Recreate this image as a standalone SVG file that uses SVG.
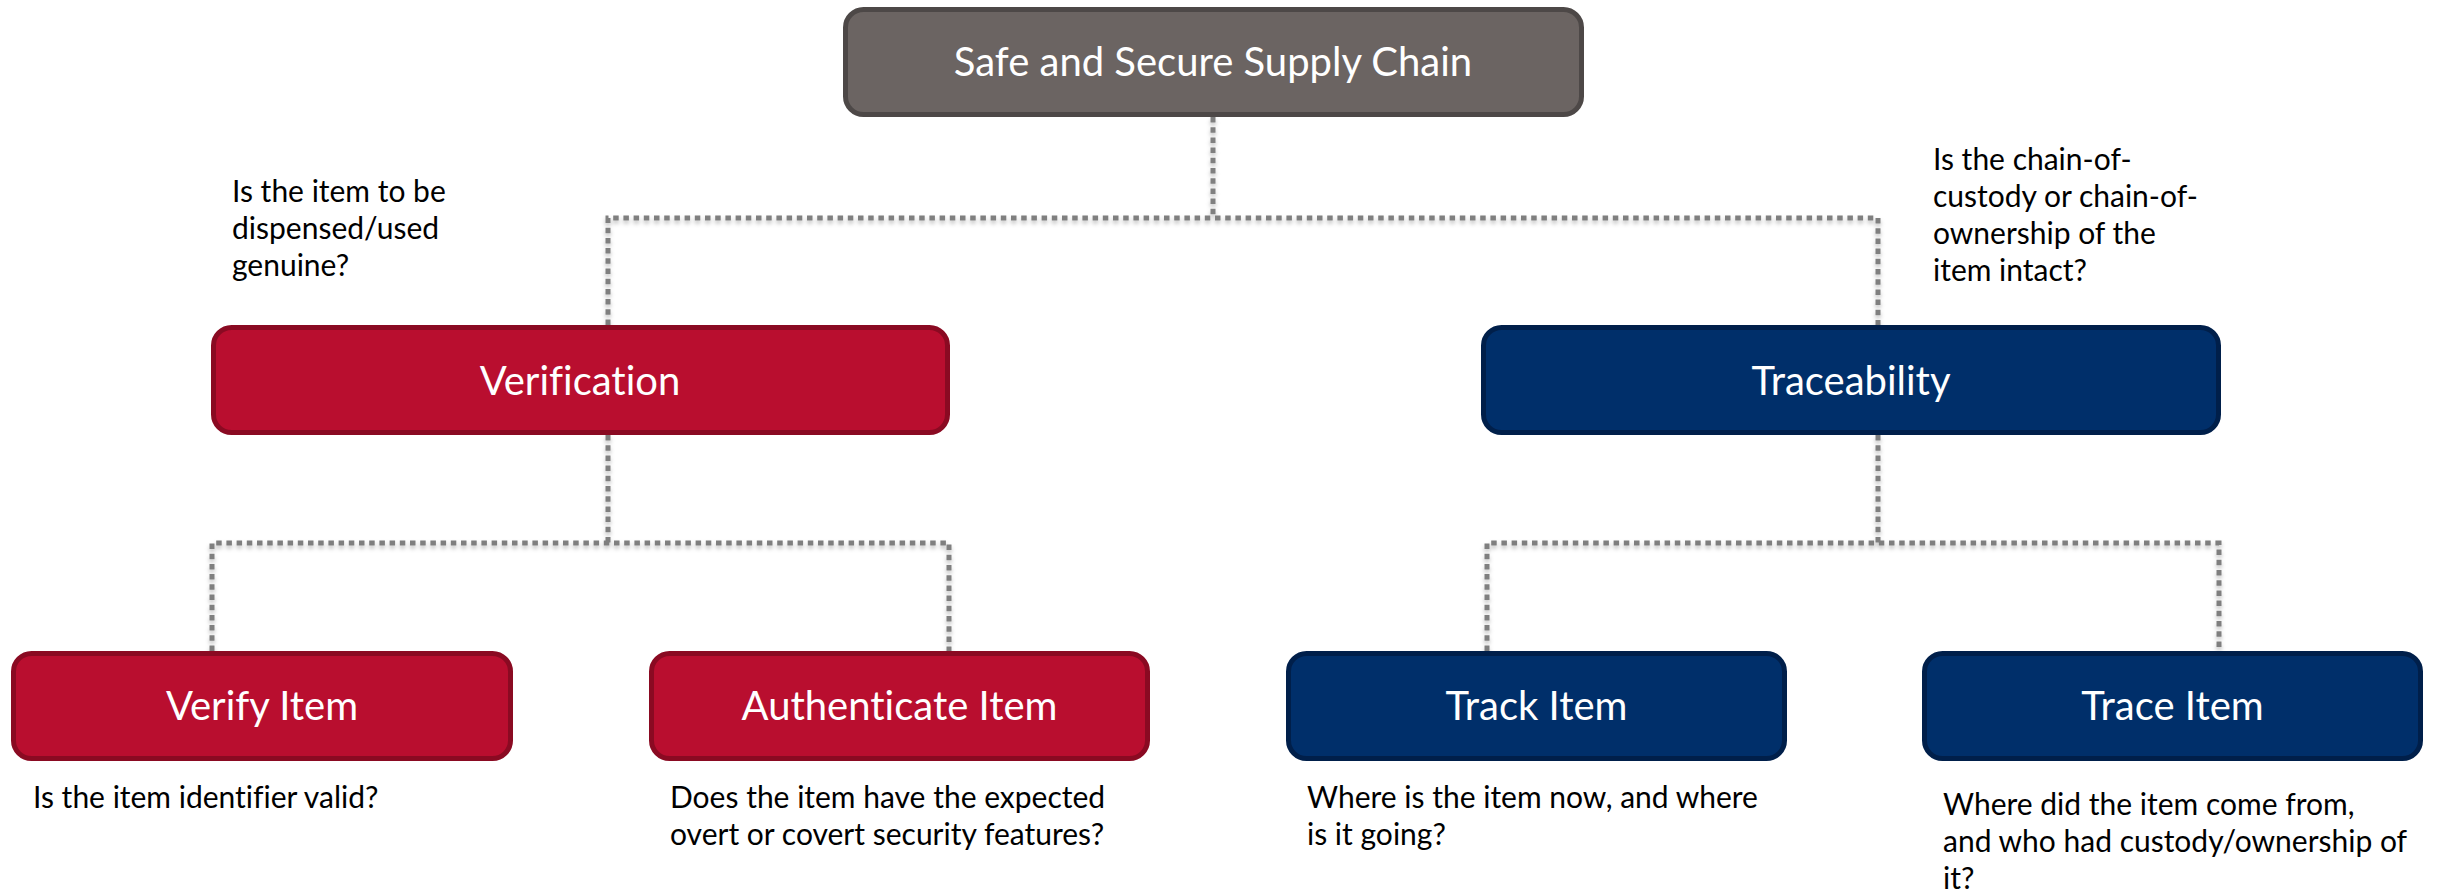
<svg xmlns="http://www.w3.org/2000/svg" width="2437" height="892" viewBox="0 0 2437 892">
<style>
.box{stroke-width:5}
.gray{fill:#6b6462;stroke:#4d4847}
.red{fill:#b90e2f;stroke:#8a0a22}
.blue{fill:#002f6a;stroke:#001f4a}
.lbl{font-family:Lato,"Liberation Sans",sans-serif;fill:#ffffff;text-anchor:middle;font-variant-ligatures:none}
.big{font-size:40px}
.mid{font-size:40px}
.note{font-family:Lato,"Liberation Sans",sans-serif;font-size:30px;fill:#000000;font-variant-ligatures:none}
.conn{fill:none;stroke:#7f7f7f;stroke-width:5;stroke-dasharray:5.5 4.7}
</style>
<defs>
<filter id="sh" x="-5%" y="-50%" width="110%" height="200%">
<feDropShadow dx="0" dy="3" stdDeviation="2" flood-color="#000" flood-opacity="0.25"/>
</filter>
</defs>
<g id="connectors" filter="url(#sh)">
<path class="conn" d="M1213 117 V218"/>
<path class="conn" d="M608 325 V218 H1878 V325"/>
<path class="conn" d="M608 435 V543"/>
<path class="conn" d="M212 651 V543 H949 V651"/>
<path class="conn" d="M1878 435 V543"/>
<path class="conn" d="M1487 651 V543 H2219 V651"/>
</g>
<g id="root">
<rect class="box gray" x="845.5" y="9.5" width="736" height="105" rx="18"/>
<text class="lbl big" x="1213" y="76">Safe and Secure Supply Chain</text>
</g>
<g id="verification">
<rect class="box red" x="213.5" y="327.5" width="734" height="105" rx="18"/>
<text class="lbl mid" x="580" y="395">Verification</text>
</g>
<g id="traceability">
<rect class="box blue" x="1483.5" y="327.5" width="735" height="105" rx="18"/>
<text class="lbl mid" x="1851" y="395">Traceability</text>
</g>
<g id="verify-item">
<rect class="box red" x="13.5" y="653.5" width="497" height="105" rx="18"/>
<text class="lbl mid" x="262" y="720">Verify Item</text>
</g>
<g id="authenticate-item">
<rect class="box red" x="651.5" y="653.5" width="496" height="105" rx="18"/>
<text class="lbl mid" x="899.5" y="720">Authenticate Item</text>
</g>
<g id="track-item">
<rect class="box blue" x="1288.5" y="653.5" width="496" height="105" rx="18"/>
<text class="lbl mid" x="1536.5" y="720">Track Item</text>
</g>
<g id="trace-item">
<rect class="box blue" x="1924.5" y="653.5" width="496" height="105" rx="18"/>
<text class="lbl mid" x="2172.5" y="720">Trace Item</text>
</g>
<g id="notes">
<text class="note" x="232" y="202">Is the item to be</text>
<text class="note" x="232" y="239">dispensed/used</text>
<text class="note" x="232" y="276">genuine?</text>
<text class="note" x="1933" y="170">Is the chain-of-</text>
<text class="note" x="1933" y="207">custody or chain-of-</text>
<text class="note" x="1933" y="244">ownership of the</text>
<text class="note" x="1933" y="281">item intact?</text>
<text class="note" x="33" y="808">Is the item identifier valid?</text>
<text class="note" x="670" y="808">Does the item have the expected</text>
<text class="note" x="670" y="845">overt or covert security features?</text>
<text class="note" x="1307" y="808">Where is the item now, and where</text>
<text class="note" x="1307" y="845">is it going?</text>
<text class="note" x="1943" y="815">Where did the item come from,</text>
<text class="note" x="1943" y="852">and who had custody/ownership of</text>
<text class="note" x="1943" y="889">it?</text>
</g>
</svg>
